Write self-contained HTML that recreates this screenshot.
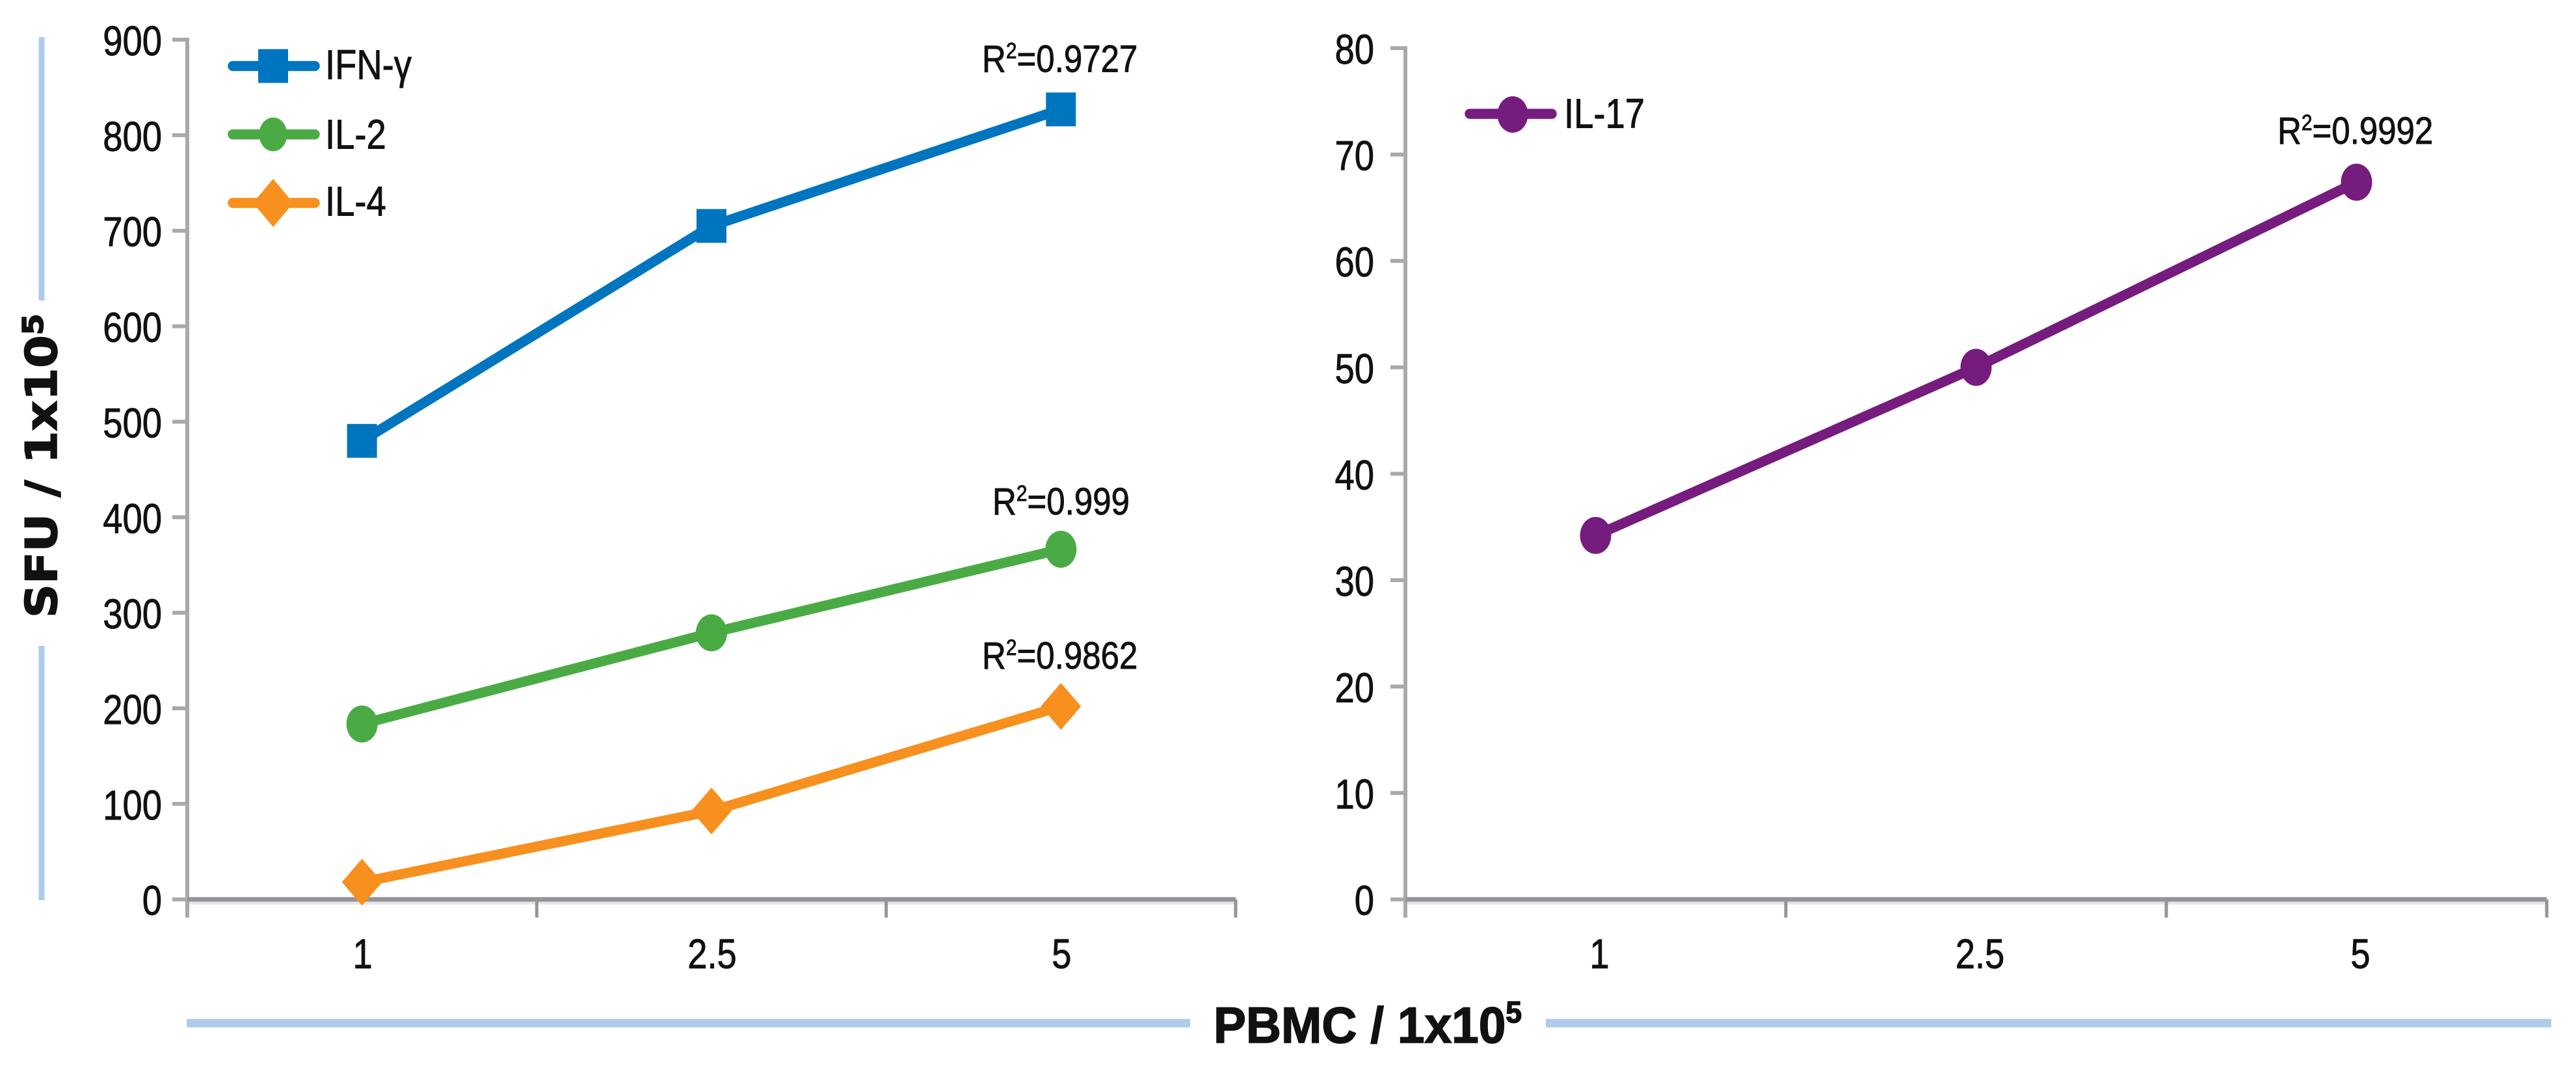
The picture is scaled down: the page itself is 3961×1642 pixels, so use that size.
<!DOCTYPE html>
<html lang="en">
<head>
<meta charset="utf-8">
<title>SFU vs PBMC cytokine charts</title>
<style>
html,body{margin:0;padding:0;background:#fff;width:3961px;height:1642px;overflow:hidden}
svg{display:block}
text{font-family:"Liberation Sans",sans-serif;fill:#111;stroke:#111;stroke-width:.9px}
</style>
</head>
<body>
<svg id="figure" xmlns="http://www.w3.org/2000/svg" width="3961" height="1642" viewBox="0 0 3961 1642">
  <rect x="0" y="0" width="3961" height="1642" fill="#fff"/>

  <g id="left-chart"></g>
  <g id="right-chart"></g>

  <!-- y axis title -->
  <rect x="59.5" y="57" width="9" height="405" fill="#afcbea"/>
  <rect x="59.5" y="993" width="9" height="391" fill="#afcbea"/>
  <text transform="translate(87,950) rotate(-90) scale(1.08,1)" style="font-family:'DejaVu Sans','Liberation Sans',sans-serif;font-weight:700;font-size:67px;stroke-width:1.6px">SFU / 1x10<tspan font-size="44" dy="-21">5</tspan></text>

  <!-- x axis title -->
  <rect x="287" y="1566.5" width="1543" height="13" fill="#afcbea"/>
  <rect x="2377" y="1566.5" width="1546" height="13" fill="#afcbea"/>
  <text transform="translate(1866,1603) scale(.96,1)" style="font-weight:700;font-size:78px;stroke-width:1.6px">PBMC / 1x10<tspan font-size="46" dy="-31">5</tspan></text>

  <!-- left legend -->
  <g>
    <g>
      <line x1="358" y1="101.5" x2="484" y2="101.5" stroke="#0075bf" stroke-width="15.5" stroke-linecap="round"/>
      <rect x="397" y="75.5" width="46" height="52" fill="#0075bf"/>
      <text transform="translate(500,121.4) scale(.85,1)" font-size="64">IFN-γ</text>
    </g>
    <g>
      <line x1="358" y1="206.6" x2="484" y2="206.6" stroke="#4aab45" stroke-width="15.5" stroke-linecap="round"/>
      <ellipse cx="420" cy="206.6" rx="21.5" ry="26" fill="#4aab45"/>
      <text transform="translate(500,228.6) scale(.85,1)" font-size="64">IL-2</text>
    </g>
    <g>
      <line x1="358" y1="312" x2="484" y2="312" stroke="#f7901e" stroke-width="15.5" stroke-linecap="round"/>
      <polygon points="420,275 451,312 420,349 389,312" fill="#f7901e"/>
      <text transform="translate(500,331.6) scale(.85,1)" font-size="64">IL-4</text>
    </g>
  </g>

  <!-- right legend -->
  <g>
    <g>
      <line x1="2260" y1="175" x2="2386" y2="175" stroke="#751c7e" stroke-width="15.5" stroke-linecap="round"/>
      <ellipse cx="2326" cy="176" rx="23.5" ry="28" fill="#751c7e"/>
      <text transform="translate(2405,196.4) scale(.85,1)" font-size="64">IL-17</text>
    </g>
  </g>

  <!-- fit annotations -->
  <text transform="translate(1510,110.7) scale(.88,1)" font-size="58">R<tspan font-size="34" dy="-21">2</tspan><tspan dy="21">=0.9727</tspan></text>
  <text transform="translate(1526,791) scale(.88,1)" font-size="58">R<tspan font-size="34" dy="-21">2</tspan><tspan dy="21">=0.999</tspan></text>
  <text transform="translate(1510,1028) scale(.88,1)" font-size="58">R<tspan font-size="34" dy="-21">2</tspan><tspan dy="21">=0.9862</tspan></text>
  <text transform="translate(3502,221) scale(.88,1)" font-size="58">R<tspan font-size="34" dy="-21">2</tspan><tspan dy="21">=0.9992</tspan></text>
</svg>

<script>
const categories = ['1', '2.5', '5'];
const leftTicks = [0, 100, 200, 300, 400, 500, 600, 700, 800, 900];
const rightTicks = [0, 10, 20, 30, 40, 50, 60, 70, 80];
const ifnValues = [480, 705, 827];
const il2Values = [183.6, 279, 366.5];
const il4Values = [18, 92.5, 202];
const il17Values = [34.2, 50, 67.4];

const SVG_NS = 'http://www.w3.org/2000/svg';

function make(parent, tag, attrs) {
  const el = document.createElementNS(SVG_NS, tag);
  for (const k in attrs) el.setAttribute(k, attrs[k]);
  parent.appendChild(el);
  return el;
}

function drawAxes(group, frame, ticks, yMax) {
  const xScale = i => frame.left + (i + 0.5) * (frame.right - frame.left) / categories.length;
  const yScale = v => frame.bottom - (v / yMax) * (frame.bottom - frame.top);

  const shadow = make(group, 'rect', {x: frame.left, y: frame.bottom + 3, width: frame.right - frame.left, height: 5, fill: '#e4e5e6'});
  
  

  const yAxis = make(group, 'line', {x1: frame.left, y1: frame.top - 3, x2: frame.left, y2: frame.bottom + 28, stroke: '#a7a9ac', 'stroke-width': 6});
  
  

  const xAxis = make(group, 'line', {x1: frame.left, y1: frame.bottom, x2: frame.right, y2: frame.bottom, stroke: '#939598', 'stroke-width': 7});
  
  

  ticks.forEach(t => {
    const y = yScale(t);
    const tick = make(group, 'line', {x1: frame.left - 23, y1: y, x2: frame.left, y2: y, stroke: '#a7a9ac', 'stroke-width': 6});
    
    
    const label = make(group, 'text', {transform: `translate(${frame.labelRight},${y + 24}) scale(.85,1)`, 'text-anchor': 'end', 'font-size': 64});
    
    
    label.textContent = t;
  });

  for (let i = 1; i <= categories.length; i++) {
    const x = frame.left + i * (frame.right - frame.left) / categories.length;
    const tick = make(group, 'line', {x1: x, y1: frame.bottom, x2: x, y2: frame.bottom + 28, stroke: '#939598', 'stroke-width': 5});
    
    
  }

  categories.forEach((c, i) => {
    const label = make(group, 'text', {transform: `translate(${xScale(i) + frame.labelShift},${frame.bottom + 106}) scale(.85,1)`, 'text-anchor': 'middle', 'font-size': 64});
    
    
    label.textContent = c;
  });

  return {xScale, yScale};
}

function drawSeries(group, scales, values, color, shape, name) {
  const series = make(group, 'g', {});
  
  

  const pts = values.map((v, i) => scales.xScale(i) + ',' + scales.yScale(v)).join(' ');
  const line = make(series, 'polyline', {points: pts, fill: 'none', stroke: color, 'stroke-width': 15.5, 'stroke-linejoin': 'round'});
  
  

  values.forEach((v, i) => {
    const x = scales.xScale(i);
    const y = scales.yScale(v);
    let mark;
    if (shape === 'square') {
      mark = make(series, 'rect', {x: x - 23, y: y - 26, width: 46, height: 52, fill: color});
    } else if (shape === 'circle') {
      mark = make(series, 'ellipse', {cx: x, cy: y, rx: 24, ry: 28.5, fill: color});
    } else {
      mark = make(series, 'polygon', {points: `${x},${y - 36} ${x + 31},${y} ${x},${y + 36} ${x - 31},${y}`, fill: color});
    }
    
    
  });
}

const leftGroup = document.getElementById('left-chart');
const rightGroup = document.getElementById('right-chart');

const leftScales = drawAxes(leftGroup, {left: 288, right: 1900, top: 61, bottom: 1382.7, labelRight: 249, labelShift: 1}, leftTicks, 900);
const rightScales = drawAxes(rightGroup, {left: 2161, right: 3916, top: 74, bottom: 1382.7, labelRight: 2113, labelShift: 6}, rightTicks, 80);

drawSeries(leftGroup, leftScales, ifnValues, '#0075bf', 'square', 'ifn-gamma');
drawSeries(leftGroup, leftScales, il2Values, '#4aab45', 'circle', 'il-2');
drawSeries(leftGroup, leftScales, il4Values, '#f7901e', 'diamond', 'il-4');
drawSeries(rightGroup, rightScales, il17Values, '#751c7e', 'circle', 'il-17');
</script>
</body>
</html>
